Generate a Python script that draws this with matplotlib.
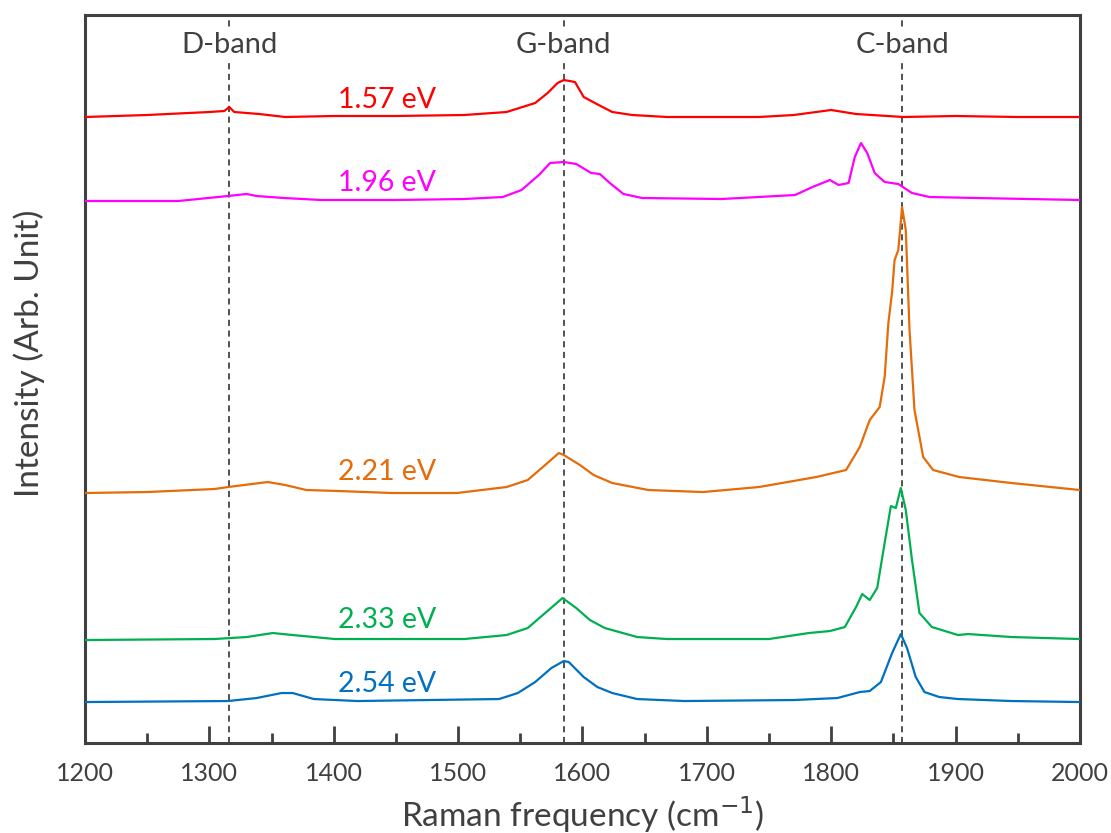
import matplotlib.pyplot as plt

plt.rcParams['font.family'] = ['Lato', 'DejaVu Sans']

# Raman spectra (x in cm-1, y in arbitrary offset units)
red_x = [1200, 1250, 1300, 1312, 1316, 1320, 1340, 1361, 1400, 1450, 1505, 1539, 1562, 1572, 1580, 1585,
         1594, 1601, 1613, 1624, 1640, 1668, 1700, 1742, 1770, 1800, 1820, 1858, 1900, 1950, 2000]
red_y = [626, 628, 631, 632, 636, 631, 629, 626, 627, 627, 628, 631, 640, 650, 660, 663,
         661, 646, 638, 631, 628, 626, 626, 626, 628, 633, 629, 626, 627, 626, 626]

magenta_x = [1200, 1275, 1315, 1330, 1338, 1360, 1390, 1450, 1505, 1536, 1551, 1565, 1574, 1585, 1595, 1607,
             1614, 1622, 1633, 1648, 1712, 1771, 1785, 1799, 1806, 1814, 1819, 1824, 1829, 1835, 1843, 1854,
             1865, 1879, 1917, 2000]
magenta_y = [542, 542, 547, 549, 547, 545, 543, 543, 544, 546, 553, 568, 580, 581, 579, 570,
             569, 560, 549, 545, 544, 548, 556, 563, 558, 560, 586, 600, 590, 570, 561, 559,
             550, 546, 545, 543]

orange_x = [1200, 1250, 1304, 1315, 1347, 1361, 1378, 1404, 1447, 1499, 1539, 1556, 1570, 1581, 1585, 1598,
            1609, 1624, 1653, 1697, 1742, 1788, 1812, 1823, 1831, 1839, 1843, 1846, 1849, 1851, 1854, 1857,
            1860, 1863, 1867, 1874, 1882, 1903, 1945, 2000]
orange_y = [250, 251, 254, 256, 261, 258, 253, 252, 250, 250, 256, 263, 278, 290, 288, 278,
            268, 260, 253, 251, 256, 266, 273, 296, 323, 336, 366, 420, 451, 483, 493, 536,
            513, 413, 333, 286, 273, 266, 260, 253]

green_x = [1200, 1304, 1330, 1351, 1367, 1401, 1505, 1539, 1556, 1570, 1584, 1595, 1606, 1618, 1644, 1668,
           1750, 1782, 1799, 1811, 1820, 1825, 1831, 1837, 1843, 1848, 1852, 1856, 1860, 1865, 1871, 1881,
           1902, 1910, 1945, 2000]
green_y = [103, 104, 106, 110, 108, 104, 104, 108, 115, 130, 145, 135, 123, 115, 106, 104,
           104, 110, 112, 116, 136, 149, 143, 155, 200, 237, 235, 255, 233, 183, 130, 116,
           108, 109, 106, 104]

blue_x = [1200, 1315, 1338, 1358, 1367, 1384, 1419, 1533, 1548, 1562, 1575, 1585, 1589, 1601, 1612, 1624,
          1644, 1682, 1770, 1805, 1823, 1831, 1840, 1849, 1856, 1861, 1868, 1875, 1887, 1902, 1945, 2000]
blue_y = [41, 42, 45, 50, 50, 44, 42, 44, 50, 61, 75, 82, 81, 66, 56, 50,
          44, 42, 43, 45, 51, 52, 61, 90, 109, 95, 66, 51, 46, 44, 42, 41]

labels = ['1.57 eV', '1.96 eV', '2.21 eV', '2.33 eV', '2.54 eV']
label_y = [643, 560, 271, 123, 59]
colors = ['#FF0000', '#FF00FF', '#E46C0A', '#00B050', '#0070C0']

band_names = ['D-band', 'G-band', 'C-band']
band_pos = [1316, 1585, 1857]

gray = '#404040'

fig = plt.figure(figsize=(11.11, 8.33), dpi=100)
ax = fig.add_axes([0.0765, 0.108, 0.8955, 0.874])

#band guide lines
for b in band_pos:
    ax.axvline(b, color='#222222', linestyle=(0, (4, 3)), linewidth=1.1, zorder=1)

curves = [(red_x, red_y), (magenta_x, magenta_y), (orange_x, orange_y),
          (green_x, green_y), (blue_x, blue_y)]
for (xs, ys), c in zip(curves, colors):
    ax.plot(xs, ys, color=c, linewidth=1.6, zorder=3)

for lab, yy, c in zip(labels, label_y, colors):
    ax.text(1443, yy, lab, color=c, fontsize=20.5, ha='center', va='center', zorder=4)

for name, b in zip(band_names, band_pos):
    ax.text(b, 698, name, color=gray, fontsize=21, ha='center', va='center', zorder=4,
            bbox=dict(facecolor='white', edgecolor='none', pad=2))

ax.set_xlim(1200, 2000)
ax.set_ylim(0, 728)
ax.set_xticks(range(1200, 2001, 100))
ax.set_xticks(range(1250, 2000, 100), minor=True)
ax.tick_params(axis='x', which='major', direction='in', length=12, width=2, color=gray,
               labelsize=18, labelcolor=gray, pad=14)
ax.tick_params(axis='x', which='minor', direction='in', length=7, width=2, color=gray)
ax.set_yticks([])

for s in ax.spines.values():
    s.set_color(gray)
    s.set_linewidth(2.2)

ax.set_xlabel('Raman frequency (cm$^{-1}$)', fontsize=24, color=gray, labelpad=6)
ax.set_ylabel('Intensity (Arb. Unit)', fontsize=24, color=gray)
ax.yaxis.set_label_coords(-0.04, 0.535)

fig.savefig('out.png', dpi=100)
